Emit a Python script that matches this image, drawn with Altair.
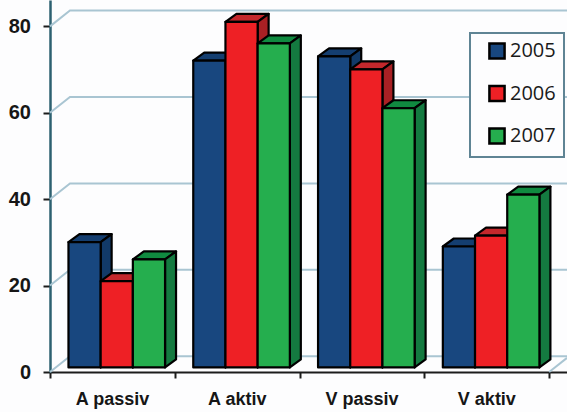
import json
import altair as alt
import pandas as pd

categories = ["A passiv", "A aktiv", "V passiv", "V aktiv"]
years = ["2005", "2006", "2007"]
series = {
    "2005": [29, 71, 72, 28],
    "2006": [20, 80, 69, 30.5],
    "2007": [25, 75, 60, 40],
}
front_colors = ["#18477f", "#ee2025", "#25ae4e"]
side_colors = ["#123a68", "#a92024", "#147a40"]
top_colors = ["#143e70", "#c4282c", "#108a40"]
levels = [0, 20, 40, 60, 80]

# Depth of the pseudo-3D drawing, in scale units (one category = 1 on x, percent on y).
X_MAX = 4.143
Y_MAX = 86.1
WALL_DX, WALL_DY = 0.16, 3.65
BAR_DX, BAR_DY = 0.088, 1.85
BAR_START, BAR_WIDTH = 0.148, 0.258
FLOOR_LIFT = 1.05

x_scale = alt.Scale(domain=[0, X_MAX], nice=False, zero=False)
y_scale = alt.Scale(domain=[0, Y_MAX], nice=False, zero=False)


def bar_rows(year_index):
    rows = []
    for c, value in enumerate(series[years[year_index]]):
        left = c + BAR_START + year_index * BAR_WIDTH
        rows.append({"cat": categories[c], "year": years[year_index], "left": left,
                     "right": left + BAR_WIDTH, "base": FLOOR_LIFT, "value": value + FLOOR_LIFT})
    return rows


def side_rows(year_index):
    rows = []
    for b in bar_rows(year_index):
        rows.append({"cat": b["cat"], "x": b["right"], "y": b["value"], "y2": b["base"]})
        rows.append({"cat": b["cat"], "x": b["right"] + BAR_DX,
                     "y": b["value"] + BAR_DY, "y2": b["base"] + BAR_DY})
    return rows


def top_rows(year_index):
    rows = []
    for b in bar_rows(year_index):
        v = b["value"]
        rows += [
            {"cat": b["cat"], "x": b["left"], "y": v, "y2": v},
            {"cat": b["cat"], "x": b["left"] + BAR_DX, "y": v, "y2": v + BAR_DY},
            {"cat": b["cat"], "x": b["right"], "y": v, "y2": v + BAR_DY},
            {"cat": b["cat"], "x": b["right"] + BAR_DX, "y": v + BAR_DY, "y2": v + BAR_DY},
        ]
    return rows


# Gridlines run from the axis up the floor edge and along the back wall.
wall_rows = []
for level in levels:
    wall_rows += [
        {"level": str(level), "x": 0, "y": level},
        {"level": str(level), "x": WALL_DX, "y": level + WALL_DY},
        {"level": str(level), "x": X_MAX, "y": level + WALL_DY},
    ]
wall_rows += [
    {"level": "edge", "x": 4, "y": 0},
    {"level": "edge", "x": X_MAX, "y": (X_MAX - 4) / WALL_DX * WALL_DY},
]

label_expr = "(" + json.dumps(categories) + ")[datum.value] || ''"

walls = alt.Chart(pd.DataFrame(wall_rows)).mark_line(color="#a9c5d2", strokeWidth=2).encode(
    x=alt.X("x:Q", scale=x_scale, title=None, axis=alt.Axis(
        values=[0, 1, 2, 3, 4], labelExpr=label_expr, labelOffset=62, grid=False,
        domainColor="#1c1c1c", domainWidth=2, tickColor="#1c1c1c", tickWidth=2, tickSize=6,
        labelFont="Liberation Sans", labelFontWeight="bold", labelFontSize=18,
        labelColor="#161616", labelPadding=12, labelOverlap=False, labelFlush=False,
        labelBound=False, labelAngle=0)),
    y=alt.Y("y:Q", scale=y_scale, title=None, axis=alt.Axis(
        values=levels, grid=False, domainColor="#2d6070", domainWidth=2.5,
        tickColor="#1c1c1c", tickWidth=2, tickSize=7,
        labelFont="Liberation Sans", labelFontWeight="bold", labelFontSize=20,
        labelColor="#161616", labelPadding=12.5, labelOverlap=False, labelFlush=False,
        labelBound=False)),
    detail="level:N",
)

outline = dict(stroke="black", strokeWidth=2.2, strokeJoin="round")
xq = alt.X("x:Q", scale=x_scale, title=None)
yq = alt.Y("y:Q", scale=y_scale, title=None)

layers = [walls]
for i, year in enumerate(years):
    top = alt.Chart(pd.DataFrame(top_rows(i))).mark_area(fill=top_colors[i], **outline).encode(
        x=xq, y=yq, y2="y2:Q", detail="cat:N")
    side = alt.Chart(pd.DataFrame(side_rows(i))).mark_area(fill=side_colors[i], **outline).encode(
        x=xq, y=yq, y2="y2:Q", detail="cat:N")
    front = alt.Chart(pd.DataFrame(bar_rows(i))).mark_bar(**outline).encode(
        x=alt.X("left:Q", scale=x_scale, title=None),
        x2="right:Q",
        y=alt.Y("value:Q", scale=y_scale, title=None),
        y2="base:Q",
        fill=alt.Fill("year:N", scale=alt.Scale(domain=years, range=front_colors), legend=alt.Legend(
            title=None, orient="none", legendX=420, legendY=33, padding=8, symbolOffset=9,
            symbolType="square", symbolSize=230, symbolStrokeColor="black", symbolStrokeWidth=2.5,
            labelFont="Open Sans", labelFontSize=20, labelColor="#1a1a1a", labelOffset=3,
            labelExpr="datum.label + '\u00a0\u00a0\u00a0\u00a0'",
            rowPadding=16.5, fillColor="#fdfdfe", strokeColor="#5f8494")),
    )
    layers += [top, side, front]

chart = alt.layer(*layers).properties(
    width=517, height=372,
    padding={"left": 50, "top": 0, "right": 0, "bottom": 40},
    autosize=alt.AutoSizeParams(type="none"),
    background="#fdfdfe",
).configure_view(stroke=None).configure_legend(strokeWidth=2)

chart.save("out.html", embed_options={"renderer": "svg", "actions": False})
